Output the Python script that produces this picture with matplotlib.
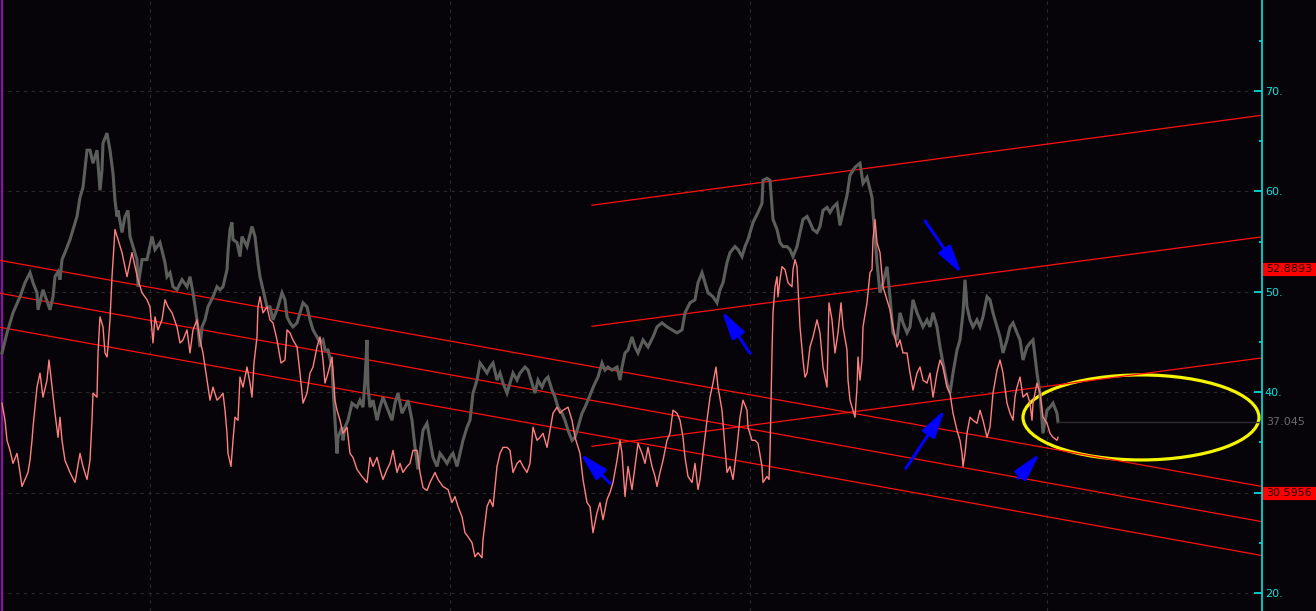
import matplotlib
matplotlib.use("Agg")
import matplotlib.pyplot as plt
from matplotlib.patches import Ellipse

# price bars (gray), sampled along the bar index
gray_x = [2, 7, 13, 20, 25, 30, 33, 37, 38, 43, 50, 53, 55, 58, 60, 62, 65, 70, 77, 80,
          83, 87, 90, 93, 97, 100, 102, 103, 107, 110, 113, 115, 117, 118, 122, 125, 128, 130, 133, 137,
          138, 142, 147, 152, 155, 160, 165, 167, 170, 173, 177, 182, 187, 190, 193, 197, 200, 202, 205, 208,
          213, 217, 220, 223, 227, 228, 230, 232, 233, 237, 240, 242, 247, 252, 255, 258, 260, 263, 267, 270,
          273, 278, 282, 285, 287, 290, 293, 297, 300, 303, 307, 310, 313, 317, 320, 323, 325, 328, 332, 333,
          335, 337, 338, 342, 343, 345, 348, 352, 357, 360, 363, 365, 367, 368, 370, 373, 377, 380, 383, 388,
          392, 395, 398, 402, 405, 408, 412, 415, 418, 420, 423, 427, 430, 433, 437, 440, 443, 447, 450, 453,
          457, 460, 463, 467, 470, 473, 477, 480, 483, 487, 490, 493, 497, 500, 503, 507, 510, 513, 517, 520,
          525, 528, 532, 535, 538, 542, 545, 548, 552, 555, 558, 562, 565, 568, 572, 575, 578, 582, 585, 588,
          592, 595, 598, 602, 605, 608, 612, 617, 620, 622, 625, 628, 632, 635, 638, 643, 648, 653, 657, 662,
          667, 672, 677, 682, 685, 690, 695, 698, 702, 705, 708, 713, 717, 720, 723, 727, 730, 735, 738, 742,
          745, 748, 750, 753, 758, 762, 763, 767, 770, 772, 773, 777, 780, 783, 787, 790, 793, 797, 800, 803,
          807, 810, 813, 817, 820, 823, 827, 830, 833, 837, 840, 843, 847, 850, 855, 860, 863, 867, 872, 873,
          875, 877, 880, 883, 887, 890, 893, 897, 900, 903, 907, 910, 913, 917, 920, 923, 927, 930, 933, 937,
          940, 943, 947, 950, 953, 957, 960, 963, 965, 967, 970, 973, 977, 980, 983, 987, 990, 993, 997, 1000,
          1003, 1007, 1010, 1013, 1017, 1020, 1023, 1027, 1030, 1033, 1037, 1040, 1042, 1043, 1047, 1050, 1053, 1057, 1058]
gray_y = [43.9, 45.9, 47.9, 49.5, 50.9, 51.9, 50.9, 49.9, 48.2, 50.2, 48.2, 49.5, 51.5, 52.0, 51.2, 53.2, 53.9, 55.2, 57.5, 59.4,
          60.4, 64.1, 64.1, 62.8, 64.1, 60.1, 62.1, 64.8, 65.8, 64.1, 61.8, 59.1, 57.5, 58.1, 55.9, 57.5, 58.1, 55.5, 54.5, 53.2,
          50.5, 53.2, 53.2, 55.5, 54.2, 54.9, 52.9, 51.5, 51.9, 50.5, 50.2, 51.2, 50.5, 51.5, 49.9, 47.2, 44.5, 46.5, 47.2, 48.5,
          49.5, 50.5, 50.2, 50.5, 52.2, 53.9, 56.2, 56.9, 55.2, 54.9, 53.5, 55.5, 54.5, 56.5, 55.5, 52.9, 51.5, 50.2, 48.5, 48.5,
          47.2, 48.5, 49.9, 49.2, 47.5, 46.9, 46.5, 46.9, 47.9, 48.9, 48.5, 47.2, 46.2, 45.5, 44.9, 45.2, 44.2, 44.2, 42.5, 40.5,
          37.2, 33.9, 35.5, 36.5, 35.2, 36.5, 37.2, 38.9, 38.5, 39.2, 38.5, 41.2, 45.2, 40.5, 38.5, 39.2, 37.2, 38.5, 39.5, 38.2,
          37.2, 38.9, 39.9, 37.9, 38.5, 39.2, 37.2, 34.5, 32.3, 33.9, 36.2, 36.9, 35.2, 33.5, 32.6, 33.9, 33.5, 32.9, 33.5, 33.9,
          32.6, 33.9, 35.2, 36.5, 37.2, 39.9, 41.2, 42.9, 42.5, 41.9, 42.5, 42.9, 41.2, 41.9, 40.9, 39.9, 40.9, 41.9, 41.2, 41.9,
          42.5, 42.2, 40.9, 39.9, 41.2, 40.5, 41.2, 41.5, 40.2, 39.5, 38.5, 37.9, 37.2, 36.2, 35.2, 35.5, 36.5, 37.9, 38.5, 39.2,
          40.2, 40.9, 41.5, 42.9, 42.2, 42.5, 42.2, 42.5, 41.2, 42.5, 43.9, 44.2, 45.5, 44.5, 43.9, 45.2, 44.5, 45.5, 46.5, 46.9,
          46.5, 46.2, 45.9, 46.2, 47.9, 48.9, 49.2, 50.9, 51.9, 50.9, 49.9, 49.5, 48.9, 50.2, 50.9, 52.9, 53.9, 54.5, 54.2, 53.5,
          54.5, 55.2, 55.9, 56.9, 57.9, 58.8, 61.1, 61.3, 61.1, 58.4, 57.2, 56.2, 54.9, 54.5, 54.5, 54.2, 53.5, 54.5, 55.9, 57.2,
          57.5, 56.9, 56.2, 55.9, 56.5, 58.1, 58.4, 57.9, 58.4, 58.8, 56.6, 57.9, 59.6, 61.6, 62.4, 62.8, 60.8, 61.4, 59.4, 57.9,
          55.5, 52.9, 49.9, 50.9, 52.5, 49.5, 45.9, 45.2, 47.9, 46.9, 45.9, 46.5, 49.2, 47.9, 47.2, 46.5, 47.2, 46.5, 47.9, 46.5,
          44.5, 42.9, 40.9, 39.9, 41.9, 44.2, 45.2, 47.9, 51.2, 48.5, 47.2, 46.5, 47.2, 46.5, 47.5, 49.5, 49.2, 47.9, 46.5, 45.5,
          43.9, 45.2, 46.5, 46.9, 45.9, 45.2, 43.2, 44.5, 44.9, 45.2, 41.9, 39.9, 37.2, 35.9, 38.2, 38.5, 38.9, 37.9, 37.05]

# indicator (salmon line)
pink_x = [2, 5, 7, 10, 13, 17, 20, 22, 25, 28, 30, 32, 33, 37, 40, 43, 47, 49, 52, 55,
          58, 60, 62, 65, 70, 75, 80, 83, 87, 90, 92, 93, 97, 98, 100, 103, 105, 107, 108, 110,
          112, 115, 118, 122, 127, 132, 135, 138, 142, 147, 150, 153, 155, 158, 162, 165, 168, 172, 177, 180,
          183, 187, 190, 193, 197, 200, 203, 207, 210, 213, 217, 220, 223, 225, 227, 228, 231, 233, 235, 238,
          240, 243, 247, 250, 252, 254, 257, 258, 260, 263, 267, 270, 273, 277, 281, 285, 287, 290, 293, 297,
          300, 303, 307, 310, 313, 317, 320, 323, 325, 328, 332, 335, 337, 340, 343, 347, 350, 353, 357, 362,
          367, 370, 373, 377, 380, 383, 387, 390, 393, 397, 400, 403, 407, 410, 413, 417, 420, 423, 427, 430,
          435, 438, 443, 448, 452, 455, 458, 462, 465, 468, 472, 475, 478, 482, 483, 487, 490, 493, 497, 500,
          503, 507, 510, 513, 517, 520, 523, 527, 530, 533, 537, 540, 543, 547, 550, 553, 557, 560, 563, 568,
          572, 575, 580, 583, 587, 590, 593, 597, 600, 603, 607, 610, 613, 617, 620, 622, 625, 628, 632, 635,
          638, 642, 645, 648, 652, 655, 657, 660, 663, 667, 670, 673, 677, 680, 683, 685, 688, 692, 695, 698,
          700, 703, 707, 710, 713, 716, 718, 722, 725, 727, 730, 733, 737, 740, 743, 747, 748, 752, 755, 758,
          762, 763, 767, 769, 770, 772, 773, 775, 777, 778, 780, 782, 785, 788, 792, 793, 795, 797, 800, 803,
          805, 807, 810, 813, 817, 820, 823, 827, 829, 832, 835, 838, 841, 843, 847, 848, 850, 853, 855, 857,
          858, 860, 862, 863, 867, 870, 872, 873, 875, 877, 880, 883, 887, 890, 893, 897, 900, 903, 907, 910,
          913, 917, 920, 923, 927, 930, 933, 937, 940, 943, 947, 950, 953, 957, 960, 962, 963, 965, 967, 970,
          973, 977, 980, 983, 987, 990, 993, 997, 1000, 1003, 1007, 1010, 1013, 1015, 1017, 1020, 1023, 1027, 1030, 1032,
          1033, 1037, 1040, 1043, 1047, 1050, 1053, 1057, 1058]
pink_y = [38.9, 37.2, 35.2, 34.2, 32.9, 33.9, 32.0, 30.6, 31.3, 32.0, 33.2, 35.2, 36.5, 40.5, 41.9, 39.5, 41.2, 43.2, 40.5, 37.9,
          35.5, 37.5, 35.2, 33.2, 32.0, 31.0, 33.9, 32.6, 31.3, 33.2, 37.2, 39.9, 39.5, 43.9, 47.5, 46.5, 43.9, 43.5, 44.5, 47.2,
          51.5, 56.2, 55.2, 53.9, 51.5, 53.9, 52.5, 51.2, 49.9, 49.2, 48.5, 44.9, 47.5, 46.2, 47.2, 49.2, 48.5, 47.9, 46.5, 44.9,
          45.2, 46.2, 43.9, 46.2, 47.2, 45.2, 43.9, 41.2, 39.2, 40.5, 39.2, 39.5, 39.9, 38.2, 35.9, 33.9, 32.6, 35.2, 37.5, 37.2,
          41.5, 40.5, 42.5, 40.9, 39.5, 42.9, 45.5, 48.5, 49.5, 47.9, 48.5, 47.2, 46.9, 45.2, 42.9, 43.2, 46.2, 45.9, 45.2, 44.5,
          41.9, 38.9, 39.9, 41.9, 42.5, 44.5, 45.5, 43.2, 40.9, 41.9, 43.5, 39.2, 38.2, 37.2, 35.9, 36.5, 33.9, 33.5, 32.3, 31.6,
          31.0, 33.5, 32.6, 33.5, 32.3, 31.3, 32.3, 32.9, 34.2, 32.0, 32.9, 32.0, 32.6, 32.9, 34.2, 34.2, 32.0, 30.5, 30.2, 31.0,
          32.0, 31.3, 30.6, 30.3, 29.0, 29.6, 28.6, 27.6, 26.0, 25.6, 25.0, 23.6, 24.0, 23.5, 25.3, 28.6, 29.3, 28.6, 32.6, 33.9,
          34.5, 34.5, 34.2, 32.0, 32.9, 33.2, 32.6, 32.0, 32.9, 36.5, 35.2, 35.5, 35.9, 34.5, 36.2, 37.9, 38.5, 37.9, 38.2, 38.5,
          37.2, 35.5, 33.9, 31.3, 29.0, 28.6, 26.0, 28.0, 29.0, 27.3, 29.3, 30.0, 31.0, 33.2, 35.2, 33.9, 29.6, 32.6, 30.3, 32.6,
          34.9, 33.9, 32.9, 34.5, 32.6, 31.6, 30.6, 32.0, 33.2, 35.2, 35.9, 38.2, 37.9, 37.2, 35.5, 33.5, 31.6, 31.0, 32.9, 30.3,
          31.3, 33.9, 37.2, 39.5, 40.9, 42.5, 40.5, 38.2, 34.5, 32.0, 32.6, 31.3, 34.5, 37.5, 39.2, 38.2, 36.5, 35.2, 35.2, 34.9,
          32.6, 31.0, 31.6, 31.3, 33.9, 43.9, 47.9, 50.5, 51.5, 49.5, 51.2, 52.5, 52.2, 50.9, 50.5, 52.2, 53.2, 52.5, 46.5, 43.2,
          41.5, 41.9, 44.5, 45.5, 47.2, 45.9, 42.5, 40.5, 48.9, 47.2, 43.9, 45.9, 48.9, 46.5, 44.2, 41.2, 39.2, 38.2, 37.5, 40.5,
          43.5, 41.2, 43.2, 46.5, 48.9, 51.9, 52.2, 55.2, 57.2, 54.9, 53.9, 50.5, 49.2, 48.2, 46.5, 44.5, 45.2, 43.9, 43.9, 41.9,
          40.2, 41.9, 42.5, 41.2, 40.9, 41.9, 39.5, 41.9, 43.2, 42.5, 40.5, 39.9, 37.9, 36.2, 35.2, 33.9, 32.6, 33.9, 35.9, 37.5,
          37.2, 36.9, 38.2, 37.2, 35.5, 36.5, 39.9, 42.2, 43.2, 41.9, 38.9, 37.9, 37.2, 39.5, 40.5, 41.5, 39.5, 39.9, 38.9, 37.2,
          38.9, 40.9, 39.9, 37.5, 36.9, 35.9, 35.5, 35.2, 35.5]

# trend channels: (x0, y0, x1, y1)
falling_channel = [(0, 53.12, 1262, 30.60), (0, 49.85, 1262, 27.10), (0, 46.46, 1262, 23.72)]
rising_channel = [(592, 58.62, 1262, 67.58), (592, 46.56, 1262, 55.47), (592, 34.61, 1262, 43.41)]

# blue arrows: (tail x, tail y, head x, head y)
arrows = [(610, 30.92, 580, 33.91), (750, 43.87, 721.7, 48.11), (925, 57.05, 961.7, 51.77),
          (906, 32.42, 945, 38.29), (1018, 31.42, 1040, 33.91)]

last_price = 37.045
marker_values = [52.8893, 30.5956]
y_ticks = [20, 30, 40, 50, 60, 70]
y_labels = ['20.', '', '40.', '50.', '60.', '70.']  # 30 is hidden under the red marker
x_grid = [150, 450, 750, 1047]

bg = '#060408'
cyan = '#00e4e4'

fig = plt.figure(figsize=(13.16, 6.11), dpi=100, facecolor=bg)
ax = fig.add_axes([0, 0, 1262 / 1316, 1])
ax.set_facecolor(bg)
ax.set_xlim(0, 1262)
ax.set_ylim(18.2, 79.06)

for s in ['left', 'top', 'bottom']:
    ax.spines[s].set_visible(False)
ax.spines['right'].set_color(cyan)
ax.spines['right'].set_linewidth(1.2)

ax.yaxis.tick_right()
ax.set_yticks(y_ticks)
ax.set_yticklabels(y_labels)
ax.set_yticks(range(25, 80, 10), minor=True)
ax.tick_params(axis='y', which='major', direction='in', length=6, width=1.2, color=cyan,
               labelcolor=cyan, labelsize=8, pad=2)
ax.tick_params(axis='y', which='minor', direction='in', length=2.5, width=1.2, color=cyan)
ax.set_xticks(x_grid)
ax.tick_params(axis='x', length=0, labelbottom=False)
ax.grid(True, color='#2a2a2a', linestyle=(0, (3, 4)), linewidth=0.8)
ax.set_axisbelow(True)

ax.axvline(2, color='#8a10a8', lw=1.6)

for x0, y0, x1, y1 in falling_channel + rising_channel:
    ax.plot([x0, x1], [y0, y1], color='#ff1010', lw=0.9)

ax.plot(gray_x, gray_y, color='#5c5e5c', lw=2.2, solid_joinstyle='miter')
ax.plot(pink_x, pink_y, color='#ff8080', lw=1.0)

ax.plot([gray_x[-1], 1262], [last_price, last_price], color='#2c2c2c', lw=1)

ax.add_patch(Ellipse((1141, 37.48), 236, 8.47, fill=False, ec='#f5f500', lw=2.3))

for x0, y0, x1, y1 in arrows:
    ax.annotate('', xy=(x1, y1), xytext=(x0, y0),
                arrowprops=dict(arrowstyle='-|>,head_length=0.85,head_width=0.22', color='#0000ff',
                                lw=2.2, shrinkA=0, shrinkB=0, mutation_scale=20))

tr = ax.get_yaxis_transform()
for v in marker_values:
    ax.plot([1.0, 1.05], [v - 0.6, v - 0.6], transform=tr, color='#ff0000', lw=9.5,
            solid_capstyle='butt', clip_on=False, zorder=2)
    ax.text(1.003, v - 0.6, f'{v:.4f}', transform=tr, ha='left', va='center', fontsize=8,
            color='#200000', clip_on=False, zorder=3)
ax.text(1.003, last_price, f'{last_price:.3f}', transform=tr, ha='left', va='center',
        fontsize=8, color='#6a6a6a', clip_on=False)

fig.savefig('out.png', dpi=100, facecolor=bg)
